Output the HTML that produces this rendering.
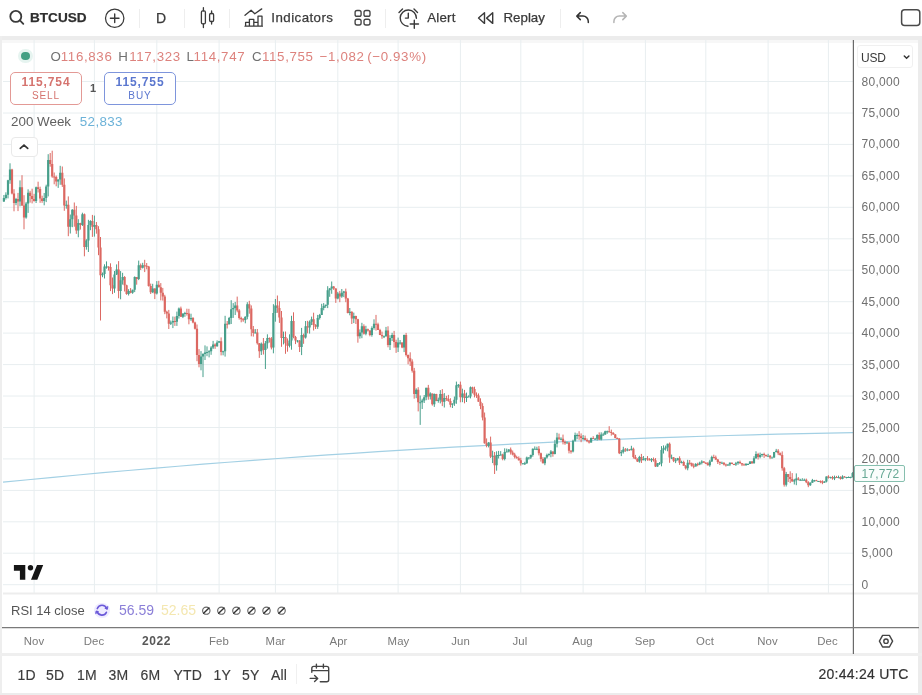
<!DOCTYPE html>
<html><head><meta charset="utf-8">
<style>
*{margin:0;padding:0;box-sizing:border-box}
html,body{width:922px;height:695px;overflow:hidden;background:#fff;font-family:"Liberation Sans",sans-serif;color:#333}
.a{position:absolute;white-space:nowrap}
.band{position:absolute;background:#ececec}
.tb{font-size:13.3px;color:#3a3a3a;top:10px;line-height:17px;-webkit-text-stroke:0.25px #3a3a3a}
.sep{position:absolute;top:9px;width:1px;height:19px;background:#eeeeee}
.pl{position:absolute;left:861.5px;font-size:12px;color:#707070;line-height:16px;letter-spacing:0.3px}
.ml{position:absolute;top:633px;font-size:11.4px;color:#7a7a7a;line-height:16px;transform:translateX(-50%);letter-spacing:0.1px}
.bt{position:absolute;top:666.5px;font-size:14px;color:#3c3c3c;line-height:16px;letter-spacing:0.2px;-webkit-text-stroke:0.15px #3c3c3c}
.lg{font-size:13.3px;line-height:17px;top:48.3px;letter-spacing:0.65px}
.red{color:#dd827d}
</style></head><body><div id="w" style="position:absolute;left:0;top:0;width:922px;height:695px;filter:blur(0.4px)">
<!-- toolbar -->
<svg class="a" style="left:0;top:0" width="922" height="36" fill="none" stroke="#3a3a3a" stroke-width="1.6" stroke-linecap="round" stroke-linejoin="round">
 <circle cx="15.8" cy="16.4" r="5.5" stroke-width="1.8"/><path d="M19.9 20.4L23.3 23.8" stroke-width="1.8"/>
 <circle cx="114.7" cy="18.2" r="9.2" stroke-width="1.25"/><path d="M110.4 18.2H119M114.7 13.9V22.5" stroke-width="1.4"/>
 <g stroke-width="1.3"><rect x="201.4" y="10.9" width="4" height="13" rx="1.3"/><path d="M203.4 7.7V10.9M203.4 23.9V27.5"/>
 <rect x="209.6" y="13.5" width="4" height="8" rx="1.3"/><path d="M211.6 10.9V13.5M211.6 21.5V24"/></g>
 <g stroke-width="1.3"><path d="M245 15.3L251.1 10.2L254.8 13.8L261.7 8.9"/>
 <path d="M245.6 26.2V22.3H249.4V26.2M249.4 26.2V19.3H253.8V26.2M253.8 26.2V22.3H258V26.2M258 26.2V16.2H262V26.2M245 26.2H262.4"/></g>
 <g stroke-width="1.35" stroke="#444"><rect x="355.1" y="10.5" width="6" height="5.8" rx="1.9"/><rect x="364" y="10.5" width="6" height="5.8" rx="1.9"/>
 <rect x="355.1" y="19.2" width="6" height="5.8" rx="1.9"/><rect x="364" y="19.2" width="6" height="5.8" rx="1.9"/></g>
 <g stroke-width="1.4"><path d="M408 26.2A8.1 8.1 0 1 1 416.4 18.3"/><path d="M408.3 13.3V18.1H405.4"/><path d="M399 12.4L402.5 9M414 9L417.5 12.4"/>
 <path d="M414.3 20.2V28.2M410.2 24H418.5"/></g>
 <g stroke-width="1.4"><path d="M484.5 12.8V23.4L478.5 18.1Z"/><path d="M492.7 12.8V23.4L486.6 18.1Z"/></g>
 <g stroke-width="1.5" stroke="#333"><path d="M580.3 12.6L576.8 16.1L580.3 19.6M577 16.1H583A5.3 5.3 0 0 1 588.3 21.4V22.4"/></g>
 <g stroke-width="1.5" stroke="#b5b5b5"><path d="M622.8 12.6L626.3 16.1L622.8 19.6M626.1 16.1H619.2A5.3 5.3 0 0 0 613.9 21.4V22.4"/></g>
 <rect x="901.6" y="9.8" width="18.2" height="15.6" rx="3" stroke-width="1.5" stroke="#4a4a4a"/>
</svg>
<div class="a tb" style="left:30px;top:9.2px;font-weight:bold;font-size:13.6px;color:#2e2e2e">BTCUSD</div>
<div class="sep" style="left:139px"></div>
<div class="a tb" style="left:156px;top:10px;font-size:14px">D</div>
<div class="sep" style="left:184px"></div>
<div class="sep" style="left:229px"></div>
<div class="a tb" style="left:271.3px;top:9.3px;letter-spacing:0.45px">Indicators</div>
<div class="sep" style="left:385px"></div>
<div class="a tb" style="left:427.3px;top:9.3px;letter-spacing:0.2px">Alert</div>
<div class="a tb" style="left:503.5px;top:9.3px">Replay</div>
<div class="sep" style="left:560px"></div>

<div class="band" style="left:0;top:36px;width:922px;height:4px"></div>
<div class="band" style="left:0;top:40px;width:922px;height:3px;background:#f7f7f7"></div>
<div class="band" style="left:0;top:36px;width:2px;height:659px;background:#eeeeee"></div>
<div class="band" style="left:918.3px;top:36px;width:3.7px;height:659px"></div>
<div class="band" style="left:0;top:653px;width:922px;height:3px;background:#efefef"></div>
<div class="band" style="left:0;top:693px;width:922px;height:2px"></div>

<!-- chart svg -->
<svg class="a" style="left:0;top:0" width="922" height="695" fill="none">
 <path d="M34.1 40V594M94.4 40V594M156.8 40V594M219.1 40V594M275.4 40V594M337.8 40V594M398.1 40V594M460.4 40V594M520.8 40V594M583.1 40V594M645.4 40V594M705.8 40V594M768.1 40V594M828.4 40V594" stroke="#e8eef0" stroke-width="1"/>
 <path d="M3 584.7H853M3 553.2H853M3 521.8H853M3 490.4H853M3 458.9H853M3 427.5H853M3 396.0H853M3 364.6H853M3 333.1H853M3 301.7H853M3 270.2H853M3 238.8H853M3 207.3H853M3 175.9H853M3 144.4H853M3 113.0H853M3 81.5H853" stroke="#e8eef0" stroke-width="1"/>
 <path d="M3 593.5H919" stroke="#ededed" stroke-width="2"/>
 <path d="M3 482.19 L28 479.73 L53 477.33 L78 474.99 L103 472.72 L128 470.50 L153 468.35 L178 466.25 L203 464.22 L228 462.24 L253 460.33 L278 458.48 L303 456.69 L328 454.96 L353 453.29 L378 451.68 L403 450.13 L428 448.64 L453 447.21 L478 445.84 L503 444.54 L528 443.29 L553 442.10 L578 440.98 L603 439.92 L628 438.91 L653 437.97 L678 437.09 L703 436.27 L728 435.50 L753 434.80 L778 434.16 L803 433.58 L828 433.07 L853 432.61 L853 432.61" stroke="#a3d0e4" stroke-width="1.2"/>
 <path d="M12.0 168.8V194.4M14.0 189.2V211.3M18.0 192.9V211.1M22.0 175.2V206.0M24.0 195.2V229.3M30.1 190.8V202.6M32.1 188.7V203.4M34.1 193.8V201.6M38.1 181.7V192.5M40.1 186.7V202.8M42.1 195.7V202.8M50.2 153.0V166.7M52.2 150.7V177.8M54.2 172.5V184.3M56.2 175.6V186.3M62.3 166.5V186.9M64.3 178.4V210.8M68.3 196.4V236.2M74.3 202.5V226.7M76.3 205.9V233.9M80.4 222.8V229.6M84.4 213.5V256.3M92.4 214.9V236.9M96.4 222.0V233.7M98.5 226.2V255.2M100.5 237.0V320.5M108.5 266.4V270.6M110.5 263.3V291.1M112.5 277.5V294.1M118.6 261.1V298.3M124.6 276.1V291.5M126.6 284.7V294.8M130.6 288.1V293.3M136.7 277.0V284.7M140.7 263.5V270.0M144.7 259.8V272.1M146.7 263.0V269.3M148.7 265.9V286.6M150.7 283.6V294.0M154.8 288.3V299.1M158.8 280.8V287.4M160.8 283.1V300.4M162.8 287.9V300.6M164.8 294.8V314.2M166.8 310.7V318.4M168.8 309.9V329.0M174.9 316.7V325.9M180.9 306.6V316.9M186.9 308.7V315.6M188.9 308.8V324.3M193.0 317.1V323.3M195.0 321.7V329.5M197.0 324.5V361.2M199.0 349.1V367.3M215.1 343.3V348.9M221.1 337.4V355.4M227.2 321.0V328.5M237.2 296.6V312.3M239.2 309.1V319.6M241.2 316.7V322.3M243.2 318.1V321.8M249.3 300.8V313.7M251.3 305.4V336.3M253.3 326.0V336.6M257.3 329.0V344.6M259.3 343.1V357.9M263.4 338.0V354.5M269.4 337.4V342.6M271.4 337.1V349.4M277.4 295.5V312.8M279.4 301.2V322.9M281.5 311.0V346.8M285.5 331.5V353.8M287.5 338.4V351.7M293.5 312.3V338.3M295.5 335.9V344.1M299.6 340.1V352.0M303.6 333.6V343.8M307.6 320.8V333.3M313.6 312.7V330.5M315.6 324.1V329.0M333.7 286.0V289.9M335.8 288.2V302.9M339.8 290.9V302.2M345.8 288.6V302.2M347.8 297.9V313.4M351.8 311.3V324.0M355.9 315.7V324.0M357.9 318.8V342.7M363.9 324.3V334.6M367.9 328.6V331.6M369.9 330.2V336.3M376.0 314.9V330.6M378.0 322.7V330.0M380.0 328.8V335.1M382.0 331.6V338.8M388.0 326.3V347.3M394.1 330.9V347.7M396.1 339.7V352.9M402.1 342.3V348.2M406.1 332.9V356.5M408.1 354.5V364.3M410.2 352.3V366.0M412.2 359.3V372.6M414.2 367.9V398.7M418.2 387.2V411.4M428.3 384.9V399.7M432.3 393.5V405.6M436.3 393.8V401.2M442.3 389.1V406.1M446.4 395.8V400.9M448.4 394.9V401.7M450.4 398.2V407.3M460.4 381.6V402.3M464.5 389.9V403.3M472.5 386.7V393.4M474.5 386.7V397.4M476.5 392.4V397.9M478.5 393.4V401.7M480.5 398.3V409.2M482.6 403.2V420.4M484.6 412.5V443.7M486.6 438.4V447.3M490.6 436.6V458.0M494.6 452.0V474.0M502.7 453.7V460.3M510.7 447.5V454.6M512.7 450.5V455.4M514.7 452.8V458.5M516.7 455.7V458.6M518.8 456.4V460.6M520.8 457.8V465.6M538.9 446.1V455.4M540.9 452.6V461.6M542.9 457.2V463.4M552.9 451.3V456.7M559.0 433.6V440.0M563.0 434.6V444.4M565.0 440.5V444.8M569.0 442.2V453.4M571.0 450.1V453.6M579.1 431.2V439.8M581.1 433.4V442.2M585.1 435.6V440.2M587.1 438.5V442.2M589.1 440.1V443.5M593.2 436.2V439.0M599.2 432.4V440.1M609.2 426.2V432.5M611.3 429.6V435.6M613.3 432.2V434.7M615.3 434.0V438.3M617.3 437.5V438.9M619.3 438.0V454.1M625.3 448.0V451.9M629.4 449.3V450.9M633.4 447.6V458.6M635.4 454.9V459.4M637.4 458.2V462.0M641.4 453.9V463.0M647.5 456.1V460.7M649.5 458.2V460.2M653.5 457.5V461.6M655.5 458.1V467.0M669.6 442.5V462.8M673.6 457.0V462.1M679.6 456.3V464.9M683.7 460.7V465.8M685.7 465.0V469.5M689.7 460.0V464.7M691.7 462.6V466.6M693.7 463.4V468.3M697.7 462.7V466.2M703.8 461.0V462.7M705.8 462.1V464.0M707.8 462.1V465.5M713.8 454.7V458.4M715.8 455.6V460.1M717.8 459.0V464.0M719.9 461.3V465.1M723.9 462.2V465.4M725.9 463.6V466.6M731.9 462.5V464.0M733.9 463.8V465.1M740.0 460.6V463.8M742.0 463.0V466.1M744.0 463.5V465.2M752.0 461.0V463.9M758.1 452.8V459.5M764.1 452.7V457.9M766.1 454.6V456.8M770.1 455.0V459.1M778.2 449.1V455.1M780.2 452.5V455.7M782.2 451.4V470.7M784.2 466.9V486.6M788.2 474.0V482.0M790.2 471.3V483.1M792.2 473.1V481.7M798.3 477.1V480.5M806.3 478.6V483.2M808.3 481.2V487.2M816.4 479.8V481.0M820.4 480.4V483.2M822.4 480.3V484.2M828.4 475.2V478.6M832.5 475.9V479.7M836.5 475.9V478.0M840.5 476.3V479.6M844.5 476.1V477.5" stroke="#dc6862" stroke-width="1"/>
<path d="M12.0 169.6V193.5M14.0 193.5V202.9M18.0 199.1V201.6M22.0 187.2V205.4M24.0 205.4V217.4M30.1 192.8V196.0M32.1 196.0V199.1M34.1 199.1V201.0M38.1 187.2V189.1M40.1 189.1V198.5M42.1 198.5V201.0M50.2 160.1V163.9M52.2 163.9V176.5M54.2 176.5V177.5M56.2 177.1V181.5M62.3 172.7V184.7M64.3 184.7V205.4M68.3 204.8V226.8M74.3 209.8V215.5M76.3 215.5V230.6M80.4 223.0V224.9M84.4 214.2V246.9M92.4 221.1V226.8M96.4 224.9V229.3M98.5 229.3V247.6M100.5 247.6V275.2M108.5 266.4V267.4M110.5 267.1V285.3M112.5 285.3V288.4M118.6 269.6V291.0M124.6 277.1V285.3M126.6 285.3V294.1M130.6 291.0V292.8M136.7 277.1V279.0M140.7 265.2V267.7M144.7 265.2V266.2M146.7 265.8V266.8M148.7 266.4V285.9M150.7 285.9V292.2M154.8 288.4V293.5M158.8 284.7V287.2M160.8 287.2V292.8M162.8 292.8V296.6M164.8 296.6V311.7M166.8 311.7V313.6M168.8 313.6V323.7M174.9 321.1V322.1M180.9 308.6V316.7M186.9 313.0V314.0M188.9 313.6V319.3M193.0 318.0V322.4M195.0 322.4V328.7M197.0 328.7V355.1M199.0 355.1V363.9M215.1 344.4V346.3M221.1 341.3V352.0M227.2 323.7V324.7M237.2 305.4V310.5M239.2 310.5V318.0M241.2 318.0V319.3M243.2 319.3V320.3M249.3 304.2V308.6M251.3 308.6V329.3M253.3 329.3V333.1M257.3 332.5V343.2M259.3 343.2V351.3M263.4 343.8V350.1M269.4 338.1V339.1M271.4 338.8V347.6M277.4 305.4V307.9M279.4 307.9V317.4M281.5 317.4V338.1M285.5 336.9V343.2M287.5 343.2V345.7M293.5 321.1V336.9M295.5 336.9V340.6M299.6 340.6V346.9M303.6 335.0V337.5M307.6 326.2V327.4M313.6 319.3V324.9M315.6 324.9V326.8M333.7 286.6V288.4M335.8 288.4V298.5M339.8 293.5V296.6M345.8 291.6V298.5M347.8 298.5V313.0M351.8 311.7V318.6M355.9 316.1V319.3M357.9 319.3V336.2M363.9 326.2V333.7M367.9 329.3V330.6M369.9 330.6V335.0M376.0 323.7V324.7M378.0 324.3V330.0M380.0 330.0V335.0M382.0 335.0V336.2M388.0 330.6V345.1M394.1 335.0V341.9M396.1 341.9V347.6M402.1 342.5V347.6M406.1 335.0V355.1M408.1 355.1V358.3M410.2 358.3V361.4M412.2 361.4V370.8M414.2 370.8V394.1M418.2 389.7V402.3M428.3 387.8V396.6M432.3 393.5V404.2M436.3 394.1V401.0M442.3 394.1V401.7M446.4 397.9V399.1M448.4 399.1V401.0M450.4 401.0V404.8M460.4 384.7V397.3M464.5 393.5V397.9M472.5 387.2V389.1M474.5 389.1V394.7M476.5 394.7V395.7M478.5 395.4V401.7M480.5 401.7V406.1M482.6 406.1V417.4M484.6 417.4V443.2M486.6 443.2V445.7M490.6 442.5V456.4M494.6 455.8V465.2M502.7 454.5V458.9M510.7 449.5V452.6M512.7 452.6V454.5M514.7 454.5V457.0M516.7 457.0V458.3M518.8 458.3V460.2M520.8 460.2V463.3M538.9 448.8V453.2M540.9 453.2V458.9M542.9 458.9V463.3M552.9 451.4V453.9M559.0 437.5V438.8M563.0 438.8V441.9M565.0 441.9V443.2M569.0 442.5V450.7M571.0 450.7V451.7M579.1 435.0V436.3M581.1 436.3V438.1M585.1 438.1V440.0M587.1 440.0V441.3M589.1 441.3V442.5M593.2 438.1V439.1M599.2 435.0V439.4M609.2 431.2V432.2M611.3 431.9V433.1M613.3 433.1V434.4M615.3 434.4V438.1M617.3 438.1V439.1M619.3 438.8V453.2M625.3 449.5V450.5M629.4 449.5V450.5M633.4 448.8V457.0M635.4 457.0V458.9M637.4 458.9V461.4M641.4 457.0V460.2M647.5 458.3V459.5M649.5 459.5V460.5M653.5 458.9V460.2M655.5 460.2V466.4M669.6 443.8V457.6M673.6 457.6V460.8M679.6 458.3V462.7M683.7 462.0V465.8M685.7 465.8V468.3M689.7 462.7V463.7M691.7 463.3V465.8M693.7 465.8V466.8M697.7 463.9V464.9M703.8 461.4V462.7M705.8 462.7V463.7M707.8 463.3V465.2M713.8 457.0V458.0M715.8 457.6V459.5M717.8 459.5V462.0M719.9 462.0V463.0M723.9 462.7V464.6M725.9 464.6V465.6M731.9 462.7V463.9M733.9 463.9V464.9M740.0 462.0V463.3M742.0 463.3V464.6M744.0 464.6V465.6M752.0 461.4V463.3M758.1 453.9V457.0M764.1 453.9V455.1M766.1 455.1V456.1M770.1 455.8V457.6M778.2 450.7V453.2M780.2 453.2V455.1M782.2 455.1V468.3M784.2 468.3V484.7M788.2 474.0V477.1M790.2 477.1V479.0M792.2 479.0V481.5M798.3 478.4V479.7M806.3 479.7V482.2M808.3 482.2V485.3M816.4 480.3V481.3M820.4 480.9V481.9M822.4 481.5V482.8M828.4 476.5V477.8M832.5 477.1V478.4M836.5 477.1V478.1M840.5 477.1V479.0M844.5 476.5V477.5" stroke="#dc6862" stroke-width="2.2"/>
<path d="M3.9 195.0V202.0M5.9 192.3V199.5M8.0 179.8V198.4M10.0 163.3V183.8M16.0 197.9V205.2M20.0 180.4V206.3M26.1 201.9V218.7M28.1 189.3V212.9M36.1 186.6V203.0M44.2 193.0V205.3M46.2 184.7V202.1M48.2 154.2V196.4M58.2 179.3V187.9M60.2 165.8V184.8M66.3 200.6V208.7M70.3 214.5V233.5M72.3 209.1V227.2M78.3 219.2V237.3M82.4 212.7V226.0M86.4 239.2V249.7M88.4 219.8V252.0M90.4 220.2V230.2M94.4 215.6V236.6M102.5 272.5V277.2M104.5 264.3V278.5M106.5 261.4V268.7M114.5 271.0V292.8M116.6 264.4V275.0M120.6 271.1V299.3M122.6 272.8V284.6M128.6 289.2V295.5M132.6 289.7V293.8M134.7 276.4V292.1M138.7 260.6V280.1M142.7 262.8V268.5M152.7 283.8V293.1M156.8 281.1V294.5M170.8 320.5V325.0M172.9 316.5V328.1M176.9 311.6V325.9M178.9 307.5V318.6M182.9 313.5V318.1M184.9 311.8V316.8M191.0 313.7V320.9M201.0 351.1V370.3M203.0 353.2V377.1M205.0 345.4V360.0M207.0 346.4V356.2M209.1 350.1V357.4M211.1 346.1V354.8M213.1 340.9V349.0M217.1 340.4V346.8M219.1 340.9V343.0M223.1 350.7V355.3M225.1 315.8V356.6M229.2 316.9V324.4M231.2 300.2V324.0M233.2 303.1V317.9M235.2 301.9V315.0M245.3 316.3V323.3M247.3 302.2V319.3M255.3 329.1V333.2M261.3 342.5V355.0M265.4 341.0V369.0M267.4 334.3V348.6M273.4 304.2V353.3M275.4 299.0V321.7M283.5 331.6V344.4M289.5 334.3V347.4M291.5 315.8V349.7M297.5 340.1V342.5M301.6 327.9V355.1M305.6 321.0V338.6M309.6 320.4V333.6M311.6 316.6V325.1M317.7 314.9V328.9M319.7 313.9V319.6M321.7 303.8V315.0M323.7 303.1V310.3M325.7 304.7V307.8M327.7 286.2V308.1M329.7 288.0V296.8M331.7 281.5V293.8M337.8 291.9V299.3M341.8 289.0V297.8M343.8 290.9V297.1M349.8 308.0V315.3M353.8 312.6V323.1M359.9 329.4V338.6M361.9 322.8V338.2M365.9 325.8V335.3M371.9 326.3V336.7M374.0 319.3V329.7M384.0 335.5V338.1M386.0 326.9V336.7M390.0 335.2V350.0M392.1 332.8V341.0M398.1 337.6V352.0M400.1 340.0V344.7M404.1 334.6V352.1M416.2 388.3V398.2M420.2 395.5V424.9M422.2 398.7V409.0M424.2 395.0V403.0M426.2 387.8V400.2M430.3 392.3V399.5M434.3 393.5V406.9M438.3 397.6V402.7M440.3 390.1V403.4M444.3 393.1V407.5M452.4 403.4V408.0M454.4 396.5V405.9M456.4 381.6V403.8M458.4 384.0V387.7M462.4 388.7V402.2M466.5 392.6V402.0M468.5 395.4V396.8M470.5 386.5V398.4M488.6 442.1V447.4M492.6 450.7V463.1M496.6 451.3V470.7M498.6 450.9V458.5M500.7 451.1V455.5M504.7 448.3V460.4M506.7 448.6V452.0M508.7 449.2V452.4M522.8 463.3V464.3M524.8 461.8V465.0M526.8 456.6V463.9M528.8 457.2V459.6M530.8 454.6V459.0M532.8 448.4V456.7M534.8 446.4V449.2M536.9 446.7V450.1M544.9 457.6V465.2M546.9 453.6V458.7M548.9 453.4V456.4M550.9 450.1V457.3M554.9 439.9V454.4M557.0 432.8V447.4M561.0 437.3V440.3M567.0 441.6V443.3M573.0 439.7V452.4M575.1 432.6V441.6M577.1 433.4V439.2M583.1 435.0V440.0M591.1 437.5V442.7M595.2 437.9V439.4M597.2 434.3V440.5M601.2 432.3V440.4M603.2 432.7V435.6M605.2 430.7V434.8M607.2 430.6V433.8M621.3 450.1V456.1M623.3 446.8V453.5M627.3 448.2V451.3M631.4 445.8V450.5M639.4 455.8V462.7M643.4 456.0V460.2M645.4 458.2V461.2M651.5 458.1V462.1M657.5 463.1V466.8M659.5 462.1V464.8M661.5 446.1V466.3M663.5 445.4V453.5M665.6 445.6V450.6M667.6 443.6V451.3M671.6 454.6V459.1M675.6 458.1V463.1M677.6 457.9V460.4M681.6 460.7V463.4M687.7 459.8V470.3M695.7 463.1V466.5M699.7 461.7V465.2M701.8 460.2V464.4M709.8 459.8V466.7M711.8 455.7V461.9M721.9 461.6V463.1M727.9 464.3V465.8M729.9 462.3V466.1M735.9 461.9V465.9M738.0 461.0V464.8M746.0 463.0V465.7M748.0 463.4V464.4M750.0 461.2V463.9M754.0 456.2V463.6M756.0 451.3V458.8M760.1 452.6V458.3M762.1 453.7V456.7M768.1 453.8V455.8M772.1 456.6V457.7M774.1 451.9V457.8M776.2 448.9V452.5M786.2 471.9V486.5M794.3 478.8V484.5M796.3 473.4V485.2M800.3 478.8V480.6M802.3 478.2V479.9M804.3 478.6V480.6M810.3 482.3V485.9M812.4 478.9V482.9M814.4 479.9V481.7M818.4 480.9V482.0M824.4 481.2V482.9M826.4 476.4V482.4M830.5 476.7V478.5M834.5 475.6V480.1M838.5 475.6V478.3M842.5 475.3V479.3M846.5 476.9V478.4M848.6 476.4V477.5M850.6 476.7V478.3M852.6 472.1V477.5" stroke="#479f8b" stroke-width="1"/>
<path d="M3.9 197.9V201.6M5.9 194.7V197.9M8.0 180.3V194.7M10.0 169.6V180.3M16.0 199.1V202.9M20.0 187.2V201.6M26.1 203.5V217.4M28.1 192.8V203.5M36.1 187.2V201.0M44.2 197.9V201.0M46.2 186.5V197.9M48.2 160.1V186.5M58.2 179.6V181.5M60.2 172.7V179.6M66.3 204.8V205.8M70.3 219.3V226.8M72.3 209.8V219.3M78.3 223.0V230.6M82.4 214.2V224.9M86.4 240.6V246.9M88.4 224.9V240.6M90.4 221.1V224.9M94.4 224.9V226.8M102.5 274.0V275.2M104.5 266.4V274.0M106.5 266.4V267.4M114.5 274.6V288.4M116.6 269.6V274.6M120.6 280.3V291.0M122.6 277.1V280.3M128.6 291.0V294.1M132.6 289.7V292.8M134.7 277.1V289.7M138.7 265.2V279.0M142.7 265.2V267.7M152.7 288.4V292.2M156.8 284.7V293.5M170.8 322.4V323.7M172.9 321.1V322.4M176.9 316.1V321.8M178.9 308.6V316.1M182.9 313.6V316.7M184.9 313.0V314.0M191.0 318.0V319.3M201.0 356.4V363.9M203.0 353.9V356.4M205.0 352.6V353.9M207.0 352.0V353.0M209.1 351.3V352.3M211.1 347.6V351.3M213.1 344.4V347.6M217.1 342.5V346.3M219.1 341.3V342.5M223.1 351.3V352.3M225.1 323.7V351.3M229.2 318.0V324.3M231.2 309.2V318.0M233.2 307.9V309.2M235.2 305.4V307.9M245.3 316.7V319.9M247.3 304.2V316.7M255.3 332.5V333.5M261.3 343.8V351.3M265.4 343.2V350.1M267.4 338.1V343.2M273.4 313.0V347.6M275.4 305.4V313.0M283.5 336.9V338.1M289.5 340.6V345.7M291.5 321.1V340.6M297.5 340.6V341.6M301.6 335.0V346.9M305.6 326.2V337.5M309.6 321.8V327.4M311.6 319.3V321.8M317.7 318.0V326.8M319.7 314.9V318.0M321.7 307.9V314.9M323.7 306.1V307.9M325.7 304.8V306.1M327.7 290.3V304.8M329.7 288.4V290.3M331.7 286.6V288.4M337.8 293.5V298.5M341.8 292.8V296.6M343.8 291.6V292.8M349.8 311.7V313.0M353.8 316.1V318.6M359.9 332.5V336.2M361.9 326.2V332.5M365.9 329.3V333.7M371.9 328.1V335.0M374.0 323.7V328.1M384.0 336.2V337.2M386.0 330.6V336.2M390.0 338.1V345.1M392.1 335.0V338.1M398.1 342.5V347.6M400.1 342.5V343.5M404.1 335.0V347.6M416.2 389.7V394.1M420.2 402.3V403.3M422.2 400.4V402.3M424.2 397.3V400.4M426.2 387.8V397.3M430.3 393.5V396.6M434.3 394.1V404.2M438.3 399.8V401.0M440.3 394.1V399.8M444.3 397.9V401.7M452.4 403.5V404.8M454.4 399.8V403.5M456.4 385.3V399.8M458.4 384.7V385.7M462.4 393.5V397.3M466.5 396.6V397.9M468.5 396.6V397.6M470.5 387.2V396.6M488.6 442.5V445.7M492.6 455.8V456.8M496.6 455.1V465.2M498.6 455.1V456.1M500.7 454.5V455.5M504.7 452.0V458.9M506.7 451.4V452.4M508.7 449.5V451.4M522.8 463.3V464.3M524.8 463.3V464.3M526.8 457.6V463.3M528.8 457.6V458.6M530.8 455.1V457.6M532.8 448.8V455.1M534.8 448.8V449.8M536.9 448.8V449.8M544.9 457.6V463.3M546.9 455.1V457.6M548.9 453.9V455.1M550.9 451.4V453.9M554.9 443.8V453.9M557.0 437.5V443.8M561.0 438.8V439.8M567.0 442.5V443.5M573.0 440.7V451.4M575.1 435.0V440.7M577.1 435.0V436.0M583.1 438.1V439.1M591.1 438.1V442.5M595.2 438.8V439.8M597.2 435.0V438.8M601.2 434.4V439.4M603.2 434.4V435.4M605.2 431.2V434.4M607.2 431.2V432.2M621.3 452.0V453.2M623.3 449.5V452.0M627.3 449.5V450.5M631.4 448.8V450.1M639.4 457.0V461.4M643.4 458.9V460.2M645.4 458.3V459.3M651.5 458.9V460.2M657.5 463.3V466.4M659.5 463.3V464.3M661.5 450.1V463.3M663.5 448.2V450.1M665.6 447.6V448.6M667.6 443.8V447.6M671.6 457.6V458.6M675.6 460.2V461.2M677.6 458.3V460.2M681.6 462.0V463.0M687.7 462.7V468.3M695.7 463.9V466.4M699.7 462.7V464.6M701.8 461.4V462.7M709.8 461.4V465.2M711.8 457.0V461.4M721.9 462.7V463.7M727.9 464.6V465.6M729.9 462.7V464.6M735.9 463.3V464.6M738.0 462.0V463.3M746.0 463.9V465.2M748.0 463.9V464.9M750.0 461.4V463.9M754.0 458.3V463.3M756.0 453.9V458.3M760.1 455.1V457.0M762.1 453.9V455.1M768.1 455.8V456.8M772.1 457.6V458.6M774.1 452.0V457.6M776.2 450.7V452.0M786.2 474.0V484.7M794.3 480.3V481.5M796.3 478.4V480.3M800.3 479.7V480.7M802.3 479.7V480.7M804.3 479.7V480.7M810.3 482.8V485.3M812.4 480.3V482.8M814.4 480.3V481.3M818.4 480.9V481.9M824.4 481.5V482.8M826.4 476.5V481.5M830.5 477.1V478.1M834.5 477.1V478.4M838.5 477.1V478.1M842.5 476.5V479.0M846.5 477.1V478.1M848.6 477.1V478.1M850.6 477.1V478.1M852.6 472.9V477.1" stroke="#479f8b" stroke-width="2.2"/>
 <path d="M853.4 40V654" stroke="#6a6a6a" stroke-width="1.2"/>
 <path d="M2 627.6H919" stroke="#7a7a7a" stroke-width="1.4"/>
</svg>

<!-- legend -->
<div class="a" style="left:18.3px;top:48.8px;width:14.4px;height:14.4px;border-radius:50%;background:#e6f4f0"></div>
<div class="a" style="left:21.4px;top:51.9px;width:8.2px;height:8.2px;border-radius:50%;background:#43a084"></div>
<div class="a lg " style="left:50.4px;color:#707070;">O</div>
<div class="a lg red" style="left:60.8px;">116,836</div>
<div class="a lg " style="left:118.2px;color:#707070;">H</div>
<div class="a lg red" style="left:129.2px;">117,323</div>
<div class="a lg " style="left:186.6px;color:#707070;">L</div>
<div class="a lg red" style="left:193.6px;">114,747</div>
<div class="a lg " style="left:252px;color:#707070;">C</div>
<div class="a lg red" style="left:262px;">115,755</div>
<div class="a lg red" style="left:319.6px;">−1,082</div>
<div class="a lg red" style="left:367.2px;">(−0.93%)</div>

<div class="a" style="left:10px;top:72px;width:72px;height:33px;border:1px solid #e39995;border-radius:5px;background:#fff"></div>
<div class="a" style="left:10px;top:74.3px;width:72px;text-align:center;font-size:12px;font-weight:bold;letter-spacing:0.9px;color:#d5736e;line-height:16px">115,754</div>
<div class="a" style="left:10px;top:89.2px;width:72px;text-align:center;font-size:10px;letter-spacing:0.9px;color:#d5736e;line-height:13px">SELL</div>
<div class="a" style="left:90px;top:81px;font-size:11px;font-weight:bold;color:#555;line-height:14px">1</div>
<div class="a" style="left:104px;top:72px;width:72px;height:33px;border:1px solid #7e95dc;border-radius:5px;background:#fff"></div>
<div class="a" style="left:104px;top:74.3px;width:72px;text-align:center;font-size:12px;font-weight:bold;letter-spacing:0.9px;color:#5b77cf;line-height:16px">115,755</div>
<div class="a" style="left:104px;top:89.2px;width:72px;text-align:center;font-size:10px;letter-spacing:0.9px;color:#5b77cf;line-height:13px">BUY</div>

<div class="a" style="left:11px;top:114px;font-size:13.4px;color:#606060;line-height:16px">200 Week <span style="color:#6cb2d8;margin-left:5px;letter-spacing:0.35px">52,833</span></div>
<div class="a" style="left:10.5px;top:136.5px;width:27.5px;height:20px;border:1px solid #e9e9e9;border-radius:4px;background:#fff"></div>
<svg class="a" style="left:10px;top:136px" width="28" height="21" fill="none" stroke="#333" stroke-width="1.7" stroke-linecap="round"><path d="M10.3 12.4L14 9.1L17.7 12.4"/></svg>

<!-- TV logo -->
<svg class="a" style="left:0;top:555px" width="50" height="30"><path d="M13.9 10H25.3V24.7H19.9V15.7H13.9Z M37 10H43.2L37.3 24.7H31Z" fill="#161616"/><circle cx="30.5" cy="12.7" r="2.7" fill="#161616"/></svg>

<!-- price axis -->
<div class="a" style="left:857px;top:45px;width:56px;height:23px;border:1px solid #f0f0f0;border-radius:3px;background:#fff"></div>
<div class="a" style="left:861px;top:49.5px;font-size:12px;color:#3a3a3a;line-height:16px;letter-spacing:-0.2px">USD</div>
<svg class="a" style="left:900px;top:52px" width="10" height="8" fill="none" stroke="#333" stroke-width="1.5" stroke-linecap="round"><path d="M4.3 4L6.6 6.2L8.9 4"/></svg>
<div class="pl" style="top:576.7px">0</div>
<div class="pl" style="top:545.2px">5,000</div>
<div class="pl" style="top:513.8px">10,000</div>
<div class="pl" style="top:482.4px">15,000</div>
<div class="pl" style="top:450.9px">20,000</div>
<div class="pl" style="top:419.5px">25,000</div>
<div class="pl" style="top:388.0px">30,000</div>
<div class="pl" style="top:356.6px">35,000</div>
<div class="pl" style="top:325.1px">40,000</div>
<div class="pl" style="top:293.7px">45,000</div>
<div class="pl" style="top:262.2px">50,000</div>
<div class="pl" style="top:230.8px">55,000</div>
<div class="pl" style="top:199.3px">60,000</div>
<div class="pl" style="top:167.9px">65,000</div>
<div class="pl" style="top:136.4px">70,000</div>
<div class="pl" style="top:105.0px">75,000</div>
<div class="pl" style="top:73.5px">80,000</div>
<div class="a" style="left:853.5px;top:465px;width:51px;height:16.5px;border:1.5px solid #86bfae;border-radius:2px;background:#fafdfc"></div>
<div class="a" style="left:861.5px;top:465.5px;font-size:12px;color:#66a894;line-height:16px;letter-spacing:0.2px">17,772</div>

<!-- RSI legend -->
<div class="a" style="left:11px;top:603px;font-size:13px;color:#555;line-height:16px">RSI 14 close</div>
<div class="a" style="left:94px;top:602.5px;width:15.5px;height:15.5px;border-radius:50%;background:#eeebff"></div>
<svg class="a" style="left:94px;top:603px" width="16" height="16" fill="none" stroke="#6a58d8" stroke-width="1.6" stroke-linecap="round"><path d="M3.3 5.6A5 5 0 0 1 12.7 5.6M12.4 9.3A5 5 0 0 1 3.1 8.6"/><path d="M11.2 5.4L13.4 6.3L13.8 3.9Z" fill="#6a58d8" stroke-width="0.9" stroke-linejoin="round"/><path d="M4.2 8.6L2.1 8L1.7 10.3Z" fill="#6a58d8" stroke-width="0.9" stroke-linejoin="round"/></svg>
<div class="a" style="left:119px;top:602px;font-size:14px;color:#8b7fd8;line-height:17px">56.59</div>
<div class="a" style="left:161px;top:602px;font-size:14px;color:#f4e7b0;line-height:17px">52.65</div>
<svg class="a" style="left:0;top:0" width="300" height="630" fill="none" stroke="#444" stroke-linecap="round"><ellipse cx="206.30" cy="610.7" rx="3.7" ry="3.55" stroke-width="1.15" stroke="#666"/><path d="M203.60 613.30L209.00 608.10" stroke-width="1.4" stroke="#333"/><ellipse cx="221.35" cy="610.7" rx="3.7" ry="3.55" stroke-width="1.15" stroke="#666"/><path d="M218.65 613.30L224.05 608.10" stroke-width="1.4" stroke="#333"/><ellipse cx="236.40" cy="610.7" rx="3.7" ry="3.55" stroke-width="1.15" stroke="#666"/><path d="M233.70 613.30L239.10 608.10" stroke-width="1.4" stroke="#333"/><ellipse cx="251.45" cy="610.7" rx="3.7" ry="3.55" stroke-width="1.15" stroke="#666"/><path d="M248.75 613.30L254.15 608.10" stroke-width="1.4" stroke="#333"/><ellipse cx="266.50" cy="610.7" rx="3.7" ry="3.55" stroke-width="1.15" stroke="#666"/><path d="M263.80 613.30L269.20 608.10" stroke-width="1.4" stroke="#333"/><ellipse cx="281.55" cy="610.7" rx="3.7" ry="3.55" stroke-width="1.15" stroke="#666"/><path d="M278.85 613.30L284.25 608.10" stroke-width="1.4" stroke="#333"/></svg>

<!-- time axis -->
<div class="ml" style="left:34px">Nov</div>
<div class="ml" style="left:94px">Dec</div>
<div class="ml" style="left:156.5px;font-weight:bold;color:#585858;font-size:12px;letter-spacing:0.6px">2022</div>
<div class="ml" style="left:219px">Feb</div>
<div class="ml" style="left:275.5px">Mar</div>
<div class="ml" style="left:338.5px">Apr</div>
<div class="ml" style="left:398.5px">May</div>
<div class="ml" style="left:460.5px">Jun</div>
<div class="ml" style="left:520px">Jul</div>
<div class="ml" style="left:582.5px">Aug</div>
<div class="ml" style="left:645px">Sep</div>
<div class="ml" style="left:705px">Oct</div>
<div class="ml" style="left:767.5px">Nov</div>
<div class="ml" style="left:827.5px">Dec</div>
<svg class="a" style="left:876px;top:632px" width="20" height="19" fill="none" stroke="#444" stroke-width="1.4" stroke-linejoin="round"><path d="M6.6 3.4H13.4L16.6 9.2L13.4 15H6.6L3.4 9.2Z"/><circle cx="10" cy="9.2" r="2.2"/></svg>

<!-- bottom bar -->
<div class="bt" style="left:17.5px">1D</div>
<div class="bt" style="left:46px">5D</div>
<div class="bt" style="left:77px">1M</div>
<div class="bt" style="left:108.5px">3M</div>
<div class="bt" style="left:140.5px">6M</div>
<div class="bt" style="left:173.5px">YTD</div>
<div class="bt" style="left:213.5px">1Y</div>
<div class="bt" style="left:242px">5Y</div>
<div class="bt" style="left:271px">All</div>
<div class="a" style="left:296px;top:664px;width:1px;height:20px;background:#f0f0f0"></div>
<svg class="a" style="left:308px;top:662px" width="24" height="22" fill="none" stroke="#444" stroke-width="1.4" stroke-linecap="round" stroke-linejoin="round"><path d="M3.8 10.3V6.4A2 2 0 0 1 5.8 4.4H18.7A2 2 0 0 1 20.7 6.4V17.7A2 2 0 0 1 18.7 19.7H12.3M3.8 8.6H20.7M8.4 2.2V6M15.4 2.2V6M2.2 16.4H9.7M6.6 13.4L9.7 16.4L6.6 19.5"/></svg>
<div class="a" style="left:818.5px;top:666px;font-size:14px;color:#333;line-height:17px;letter-spacing:0.25px;-webkit-text-stroke:0.2px #333">20:44:24 UTC</div>
</div></body></html>
